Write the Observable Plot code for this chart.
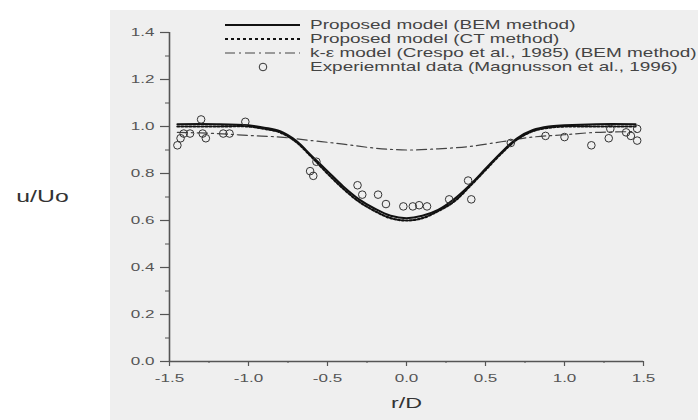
<!DOCTYPE html>
<html><head><meta charset="utf-8">
<script src="https://cdn.jsdelivr.net/npm/d3@7"></script>
<script src="https://cdn.jsdelivr.net/npm/@observablehq/plot@0.6"></script>
<style>
body{margin:0;background:#fff;}
#wrap{position:relative;width:698px;height:420px;overflow:hidden;}
#panel{position:absolute;left:110px;top:10px;width:588px;height:410px;background:#efefef;}
#chart{position:absolute;left:0;top:0;}
#legend{position:absolute;left:0;top:0;}
</style></head><body>
<div id="wrap"><div id="panel"></div><div id="chart"></div><svg id="legend" width="698" height="80"></svg></div>
<script>
// Proposed model (BEM method) - solid
const bemR = [-1.45,-1.2,-1.0,-0.9,-0.8,-0.7,-0.6,-0.5,-0.4,-0.3,-0.2,-0.1,0,0.1,0.2,0.3,0.4,0.5,0.6,0.7,0.8,0.9,1.0,1.2,1.45];
const bemU = [1.01,1.01,1.005,0.995,0.98,0.94,0.875,0.81,0.745,0.69,0.65,0.62,0.61,0.62,0.645,0.69,0.75,0.82,0.89,0.95,0.985,1.0,1.005,1.01,1.01];
// Proposed model (CT method) - dotted
const ctR = [-1.45,-1.2,-1.0,-0.9,-0.8,-0.7,-0.6,-0.5,-0.4,-0.3,-0.2,-0.1,0,0.1,0.2,0.3,0.4,0.5,0.6,0.7,0.8,0.9,1.0,1.2,1.45];
const ctU = [1.0,1.0,1.0,0.99,0.975,0.935,0.87,0.80,0.735,0.68,0.64,0.61,0.60,0.61,0.64,0.68,0.745,0.815,0.885,0.945,0.98,0.995,1.0,1.0,1.0];
// k-epsilon model - dash-dot
const keR = [-1.45,-1.2,-1.0,-0.8,-0.6,-0.4,-0.2,0,0.2,0.4,0.6,0.8,1.0,1.2,1.45];
const keU = [0.975,0.97,0.962,0.955,0.94,0.925,0.908,0.90,0.905,0.915,0.935,0.955,0.965,0.975,0.978];
// Experimental data
const expR = [-1.45,-1.43,-1.41,-1.37,-1.30,-1.29,-1.27,-1.16,-1.12,-1.02,-0.61,-0.59,-0.57,-0.31,-0.28,-0.18,-0.13,-0.02,0.04,0.08,0.13,0.27,0.39,0.41,0.66,0.88,1.0,1.17,1.28,1.29,1.39,1.42,1.46,1.46];
const expU = [0.92,0.95,0.97,0.97,1.03,0.97,0.95,0.97,0.97,1.02,0.81,0.79,0.85,0.75,0.71,0.71,0.67,0.66,0.66,0.665,0.66,0.69,0.77,0.69,0.93,0.96,0.955,0.92,0.95,0.99,0.975,0.96,0.99,0.94];

const xTicks = [-1.5,-1.0,-0.5,0.0,0.5,1.0,1.5];
const xMinor = [-1.25,-0.75,-0.25,0.25,0.75,1.25];
const yTicks = [0,0.2,0.4,0.6,0.8,1.0,1.2,1.4];
const yMinor = [0.1,0.3,0.5,0.7,0.9,1.1,1.3];
const legendLabels = [
  "Proposed model (BEM method)",
  "Proposed model (CT method)",
  "k-\u03b5 model (Crespo et al., 1985) (BEM method)",
  "Experiemntal data (Magnusson et al., 1996)"
];

const zip = (a, b) => a.map((v, i) => ({r: v, u: b[i]}));
const bem = zip(bemR, bemU), ct = zip(ctR, ctU), ke = zip(keR, keU), exp = zip(expR, expU);
const fmt = d => d.toFixed(1);
const axisColor = "#555";

const chart = Plot.plot({
  width: 698, height: 420,
  marginLeft: 169, marginRight: 55, marginTop: 32, marginBottom: 59,
  style: {background: "transparent", fontFamily: "'Liberation Sans', Arial, sans-serif", fontSize: "11px", color: "#555"},
  x: {domain: [-1.5, 1.5], axis: null},
  y: {domain: [0, 1.4], axis: null},
  marks: [
    Plot.axisY({ticks: yTicks, tickSize: 9, tickPadding: 6, tickFormat: fmt, label: null, stroke: axisColor, strokeWidth: 1.2}),
    Plot.axisY({ticks: yMinor, tickSize: 4, tickFormat: () => "", label: null, stroke: axisColor}),
    Plot.axisX({ticks: xTicks, tickSize: 5, tickPadding: 8, tickFormat: fmt, label: null, stroke: axisColor, strokeWidth: 1.2}),
    Plot.axisX({ticks: xMinor, tickSize: 2, tickFormat: () => "", label: null, stroke: axisColor}),
    Plot.ruleX([-1.5], {y1: 0, y2: 1.4, stroke: axisColor, strokeWidth: 1.6}),
    Plot.ruleY([0], {x1: -1.5, x2: 1.5, stroke: axisColor, strokeWidth: 1.6}),
    Plot.line(ke, {x: "r", y: "u", stroke: "#444", strokeWidth: 1.2, strokeDasharray: "10,4,2,4", curve: "catmull-rom"}),
    Plot.line(ct, {x: "r", y: "u", stroke: "#111", strokeWidth: 2.2, strokeDasharray: "2,2", curve: "catmull-rom"}),
    Plot.line(bem, {x: "r", y: "u", stroke: "#111", strokeWidth: 2, curve: "catmull-rom"}),
    Plot.dot(exp, {x: "r", y: "u", r: 3.8, stroke: "#333", strokeWidth: 1, fill: "none"}),
    Plot.text(["u/Uo"], {frameAnchor: "left", dx: -127, fontSize: 16, fill: "#333", textAnchor: "middle"}),
    Plot.text(["r/D"], {frameAnchor: "bottom", dy: 46, fontSize: 15, fill: "#333", textAnchor: "middle"})
  ]
});
document.getElementById("chart").appendChild(chart);
chart.querySelectorAll("text").forEach(t => {
  const tr = t.getAttribute("transform") || "";
  t.setAttribute("transform", tr + " scale(1.55,1)");
});

// legend
const lg = d3.select("#legend");
const rowY = [25, 39, 53, 67];
const styles = [
  {stroke: "#111", w: 2.2, dash: null},
  {stroke: "#111", w: 2.2, dash: "3,3"},
  {stroke: "#444", w: 1.2, dash: "10,4,2,4"}
];
styles.forEach((s, i) => {
  lg.append("line").attr("x1", 225).attr("x2", 300).attr("y1", rowY[i]).attr("y2", rowY[i])
    .attr("stroke", s.stroke).attr("stroke-width", s.w).attr("stroke-dasharray", s.dash);
});
lg.append("circle").attr("cx", 263).attr("cy", rowY[3]).attr("r", 3.8).attr("fill", "none").attr("stroke", "#333");
legendLabels.forEach((txt, i) => {
  lg.append("text").attr("transform", `translate(310,${rowY[i]}) scale(1.58,1)`)
    .attr("dy", "0.35em").attr("font-family", "'Liberation Sans', Arial, sans-serif")
    .attr("font-size", 12).attr("fill", "#444").text(txt);
});
</script>
</body></html>
